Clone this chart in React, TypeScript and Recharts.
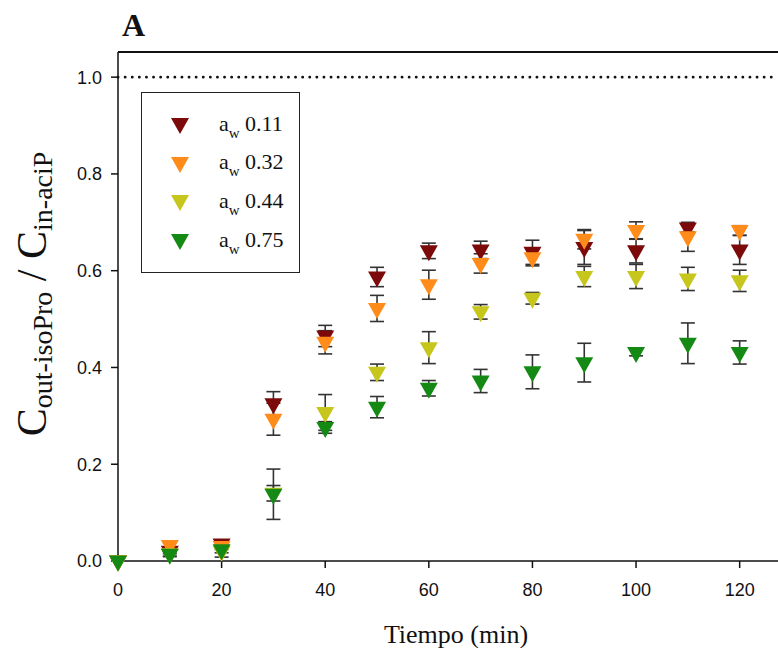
import React from "react";
import {
  ScatterChart,
  Scatter,
  XAxis,
  YAxis,
  ErrorBar,
  ReferenceLine,
} from "recharts";

const times = [0, 10, 20, 30, 40, 50, 60, 70, 80, 90, 100, 110, 120];

const aw011 = [0, 0.02, 0.035, 0.325, 0.465, 0.587, 0.641, 0.643, 0.638, 0.648, 0.641, 0.688, 0.643];
const aw011Err = [0, 0.005, 0.006, 0.025, 0.022, 0.02, 0.016, 0.018, 0.025, 0.035, 0.025, 0.008, 0.03];

const aw032 = [0, 0.032, 0.03, 0.293, 0.452, 0.522, 0.571, 0.615, 0.627, 0.665, 0.683, 0.67, 0.683];
const aw032Err = [0, 0.006, 0.006, 0.033, 0.024, 0.027, 0.03, 0.02, 0.017, 0.02, 0.018, 0.03, 0.01];

const aw044 = [0, 0.015, 0.02, 0.14, 0.307, 0.39, 0.441, 0.515, 0.543, 0.588, 0.588, 0.583, 0.579];
const aw044Err = [0, 0.005, 0.012, 0.016, 0.037, 0.017, 0.033, 0.015, 0.012, 0.021, 0.025, 0.024, 0.022];

const aw075 = [0, 0.014, 0.023, 0.138, 0.276, 0.318, 0.357, 0.372, 0.391, 0.41, 0.431, 0.45, 0.431];
const aw075Err = [0, 0.005, 0.006, 0.052, 0.012, 0.022, 0.016, 0.024, 0.035, 0.04, 0.007, 0.042, 0.024];

const xTicks = [0, 20, 40, 60, 80, 100, 120];
const yTicks = [0, 0.2, 0.4, 0.6, 0.8, 1.0];
const yMax = 1.052;

const series = [
  { label: "0.11", color: "#7d0a0a", values: aw011, errs: aw011Err },
  { label: "0.32", color: "#ff8c1a", values: aw032, errs: aw032Err },
  { label: "0.44", color: "#c6c61c", values: aw044, errs: aw044Err },
  { label: "0.75", color: "#148a14", values: aw075, errs: aw075Err },
];

const serif = "'Liberation Serif', 'Times New Roman', serif";
const sans = "'Liberation Sans', Arial, sans-serif";

// downward triangle, centroid at the data point
function DownTri({ cx, cy, fill }: any) {
  if (cx == null || cy == null) return null;
  return (
    <polygon
      points={`${cx - 9},${cy - 5.5} ${cx + 9},${cy - 5.5} ${cx},${cy + 10.5}`}
      fill={fill}
    />
  );
}

const tickStyle = { fill: "#111", fontSize: 18, fontFamily: sans };

export default function App() {
  return (
    <div
      style={{
        position: "absolute",
        left: 0,
        top: 0,
        width: 778,
        height: 648,
        background: "#fff",
        overflow: "hidden",
      }}
    >
      <ScatterChart
        width={778}
        height={648}
        margin={{ top: 52, right: 0, left: 58, bottom: 57 }}
      >
        <XAxis
          type="number"
          dataKey="t"
          domain={[0, 127.4]}
          ticks={xTicks}
          height={30}
          stroke="#111"
          strokeWidth={1.5}
          tickSize={7}
          tickMargin={15}
          tick={tickStyle}
        />
        <YAxis
          type="number"
          dataKey="v"
          domain={[0, yMax]}
          ticks={yTicks}
          width={60}
          stroke="#111"
          strokeWidth={1.5}
          tickSize={7}
          tickMargin={9}
          tick={tickStyle}
          tickFormatter={(v: number) => v.toFixed(1)}
        />
        <ReferenceLine
          y={1}
          stroke="#111"
          strokeWidth={2.8}
          strokeDasharray="0.1 7"
          strokeLinecap="round"
        />
        {series.map((s) => (
          <Scatter
            key={s.label}
            name={s.label}
            data={times.map((t, i) => ({ t, v: s.values[i], e: s.errs[i] }))}
            fill={s.color}
            isAnimationActive={false}
            shape={(p: any) => <DownTri {...p} fill={s.color} />}
          >
            <ErrorBar
              dataKey="e"
              direction="y"
              width={7}
              stroke="#333"
              strokeWidth={1.6}
            />
          </Scatter>
        ))}
      </ScatterChart>

      {/* legend box */}
      <div
        style={{
          position: "absolute",
          left: 141,
          top: 92,
          width: 157,
          height: 179,
          border: "1.5px solid #222",
          background: "#fff",
        }}
      >
        {series.map((s, i) => (
          <div
            key={s.label}
            style={{
              position: "absolute",
              left: 28,
              top: 20 + i * 38.7,
              display: "flex",
              alignItems: "center",
              height: 26,
            }}
          >
            <svg width={20} height={18} style={{ display: "block" }}>
              <polygon points="1,1 19,1 10,17" fill={s.color} />
            </svg>
            <span
              style={{
                marginLeft: 29,
                fontFamily: serif,
                fontSize: 22,
                color: "#111",
                whiteSpace: "nowrap",
              }}
            >
              a<sub style={{ fontSize: 15, verticalAlign: "-7px" }}>w</sub> {s.label}
            </span>
          </div>
        ))}
      </div>

      {/* frame top edge and text labels */}
      <svg
        width={778}
        height={648}
        style={{ position: "absolute", left: 0, top: 0, pointerEvents: "none" }}
      >
        <line x1={118} y1={52} x2={778} y2={52} stroke="#111" strokeWidth={2} />
        <text x={122} y={36} fontFamily={serif} fontWeight="bold" fontSize={32} fill="#111">
          A
        </text>
        <text
          x={456}
          y={643}
          textAnchor="middle"
          fontFamily={serif}
          fontSize={26}
          fill="#111"
        >
          Tiempo (min)
        </text>
        <text
          transform="translate(46, 294) rotate(-90)"
          textAnchor="middle"
          fontFamily={serif}
          fill="#111"
        >
          <tspan fontSize={42}>C</tspan>
          <tspan fontSize={28} dy={6}>out-isoPro</tspan>
          <tspan fontSize={42} dy={-6}> / C</tspan>
          <tspan fontSize={28} dy={6}>in-aciP</tspan>
        </text>
      </svg>
    </div>
  );
}
